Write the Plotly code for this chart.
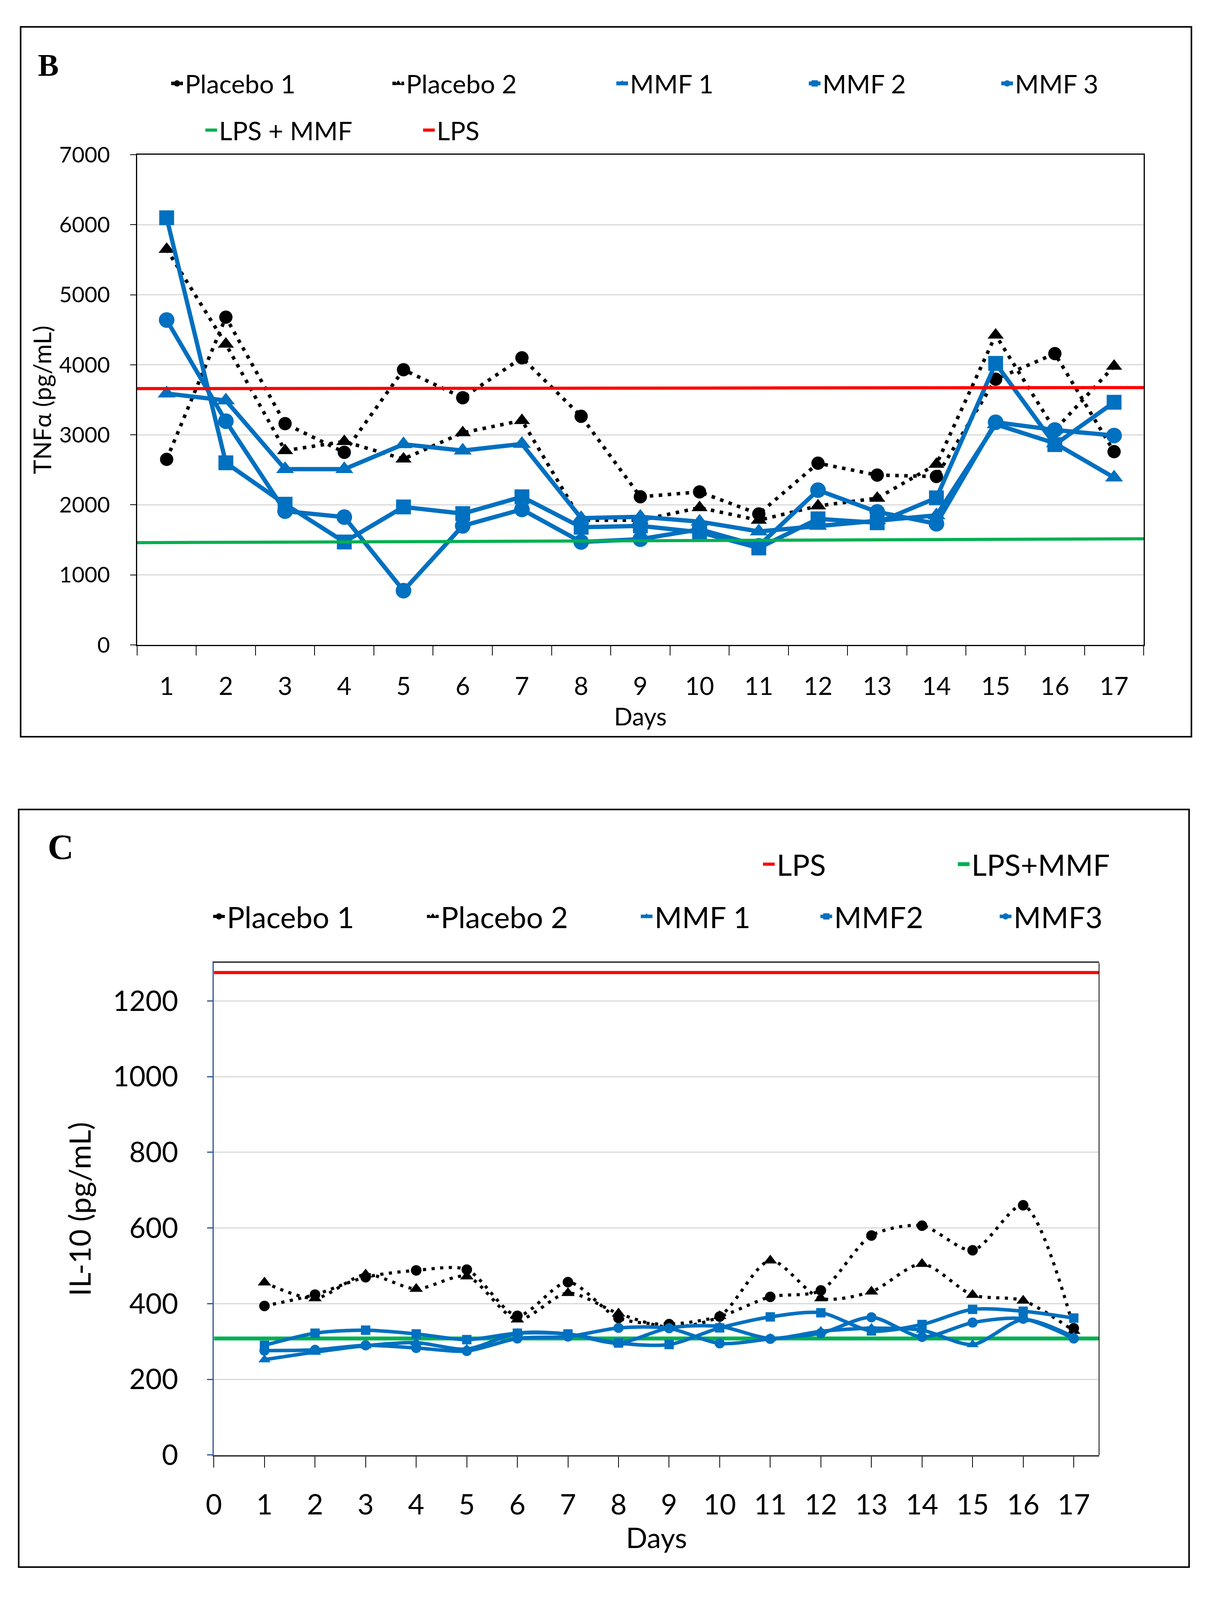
import plotly.graph_objects as go

W, H = 3084, 4275

# ---------------- DATA ----------------
days = list(range(1, 18))

# Panel B : TNF-alpha (pg/mL)
tnf_placebo1 = [2650, 4680, 3160, 2750, 3930, 3530, 4100, 3265, 2115, 2185, 1870, 2595, 2425, 2405, 3795, 4160, 2760]
tnf_placebo2 = [5650, 4295, 2775, 2905, 2655, 3030, 3205, 1780, 1780, 1960, 1780, 1985, 2095, 2580, 4425, 3070, 3980]
tnf_mmf1 = [3590, 3490, 2510, 2510, 2865, 2775, 2870, 1810, 1830, 1760, 1620, 1700, 1780, 1850, 3150, 2880, 2390]
tnf_mmf2 = [6100, 2600, 2010, 1470, 1970, 1875, 2115, 1680, 1700, 1610, 1385, 1800, 1745, 2100, 4020, 2860, 3465]
tnf_mmf3 = [4640, 3195, 1910, 1825, 775, 1700, 1935, 1470, 1510, 1650, 1415, 2210, 1900, 1730, 3180, 3070, 2990]
tnf_lps = [3660, 3675]        # value at left edge, right edge
tnf_lps_mmf = [1460, 1515]

# Panel C : IL-10 (pg/mL)
il10_placebo1 = [394, 424, 470, 488, 490, 368, 457, 362, 346, 366, 418, 435, 580, 606, 541, 660, 335]
il10_placebo2 = [456, 414, 477, 439, 472, 358, 428, 374, 338, 367, 514, 414, 432, 505, 423, 408, 328]
il10_mmf1 = [252, 272, 289, 297, 280, 322, 320, 296, 336, 340, 308, 327, 335, 330, 292, 358, 312]
il10_mmf2 = [290, 322, 330, 320, 305, 322, 320, 296, 292, 336, 365, 376, 328, 345, 385, 380, 362]
il10_mmf3 = [276, 278, 290, 283, 275, 308, 313, 336, 335, 295, 307, 322, 364, 312, 350, 360, 308]
il10_lps = [1275, 1275]
il10_lps_mmf = [308, 308]

b_ticks = [0, 1000, 2000, 3000, 4000, 5000, 6000, 7000]
c_yticks = [0, 200, 400, 600, 800, 1000, 1200]
c_xticks = list(range(0, 18))

# ---------------- STYLE ----------------
BLUE = "#0070C0"
RED = "#FF0000"
GREEN = "#00B050"
BLACK = "#000000"
GRID = "#D9D9D9"
AXBLUE = "#2F5597"
FONT = "Lato"


def px(x):
    return x / W


def py(y):
    return 1 - y / H


fig = go.Figure()

# ---------- Panel B traces ----------
b_edges = [days[0] - 0.5, days[-1] + 0.5]
b_series = [
    ("Placebo 1", tnf_placebo1, BLACK, "circle", 34, True, "legend"),
    ("Placebo 2", tnf_placebo2, BLACK, "triangle-up", 36, True, "legend2"),
    ("MMF 1", tnf_mmf1, BLUE, "triangle-up", 40, False, "legend3"),
    ("MMF 2", tnf_mmf2, BLUE, "square", 38, False, "legend4"),
    ("MMF 3", tnf_mmf3, BLUE, "circle", 40, False, "legend5"),
]
for name, vals, col, sym, size, dotted, lg in b_series:
    fig.add_trace(go.Scatter(
        x=days, y=vals, name=name, mode="lines+markers",
        line=dict(color=col, width=9 if dotted else 11, dash="9px,14px" if dotted else "solid"),
        marker=dict(symbol=sym, size=size, color=col),
        xaxis="x", yaxis="y", legend=lg))

fig.add_trace(go.Scatter(x=b_edges, y=tnf_lps_mmf, name="LPS + MMF", mode="lines",
                         line=dict(color=GREEN, width=8), xaxis="x", yaxis="y", legend="legend6"))
fig.add_trace(go.Scatter(x=b_edges, y=tnf_lps, name="LPS", mode="lines",
                         line=dict(color=RED, width=8), xaxis="x", yaxis="y", legend="legend7"))

# ---------- Panel C traces ----------
c_edges = [c_xticks[0], days[-1] + 0.5]
fig.add_trace(go.Scatter(x=c_edges, y=il10_lps, name="LPS", mode="lines",
                         line=dict(color=RED, width=8), xaxis="x2", yaxis="y2", legend="legend8"))
fig.add_trace(go.Scatter(x=c_edges, y=il10_lps_mmf, name="LPS+MMF", mode="lines",
                         line=dict(color=GREEN, width=10), xaxis="x2", yaxis="y2", legend="legend9"))

c_series = [
    ("Placebo 1", il10_placebo1, BLACK, "circle", 27, True, "legend10"),
    ("Placebo 2", il10_placebo2, BLACK, "triangle-up", 30, True, "legend11"),
    ("MMF 1", il10_mmf1, BLUE, "triangle-up", 27, False, "legend12"),
    ("MMF2", il10_mmf2, BLUE, "square", 24, False, "legend13"),
    ("MMF3", il10_mmf3, BLUE, "circle", 26, False, "legend14"),
]
for name, vals, col, sym, size, dotted, lg in c_series:
    fig.add_trace(go.Scatter(
        x=days, y=vals, name=name, mode="lines+markers",
        line=dict(color=col, width=8 if dotted else 9, dash="8px,14px" if dotted else "solid",
                  shape="spline", smoothing=0.8),
        marker=dict(symbol=sym, size=size, color=col),
        xaxis="x2", yaxis="y2", legend=lg))

# ---------------- LAYOUT ----------------
B_PLOT = dict(x0=332, x1=2926, y0=384, y1=1718)
C_PLOT = dict(x0=530, x1=2811, y0=2584, y1=3923)

layout = dict(
    width=W, height=H, autosize=False,
    margin=dict(l=0, r=0, t=0, b=0),
    paper_bgcolor="white", plot_bgcolor="white",
    font=dict(family=FONT, color=BLACK, size=54),
    showlegend=True,
    xaxis=dict(
        domain=[px(B_PLOT["x0"]), px(B_PLOT["x1"])],
        range=b_edges, tickmode="array", tickvals=days, ticktext=[str(d) for d in days],
        ticks="", showgrid=False, zeroline=False,
        showline=True, linecolor=BLACK, linewidth=3, mirror=True,
        tickfont=dict(size=64, family=FONT), ticklabelstandoff=48,
        minor=dict(tick0=0.5, dtick=1, ticks="outside", ticklen=24, tickwidth=2,
                   tickcolor=BLACK, showgrid=False),
        title=dict(text="Days", font=dict(size=62, family=FONT), standoff=22),
        anchor="y", fixedrange=True),
    yaxis=dict(
        domain=[py(B_PLOT["y1"]), py(B_PLOT["y0"])],
        range=[b_ticks[0], b_ticks[-1]], tickmode="array", tickvals=b_ticks,
        ticks="outside", ticklen=15, tickwidth=2, tickcolor=BLACK,
        showgrid=True, gridcolor=GRID, gridwidth=3, zeroline=False,
        showline=True, linecolor=BLACK, linewidth=3, mirror=True,
        tickfont=dict(size=56, family=FONT), ticklabelstandoff=40,
        title=dict(text="TNFα (pg/mL)", font=dict(size=62, family=FONT), standoff=0),
        anchor="x", fixedrange=True),
    xaxis2=dict(
        domain=[px(C_PLOT["x0"]), px(C_PLOT["x1"])],
        range=c_edges, tickmode="array", tickvals=c_xticks,
        ticks="outside", ticklen=28, tickwidth=2, tickcolor=BLACK,
        showgrid=False, zeroline=False,
        showline=True, linecolor="#404040", linewidth=4, mirror=True,
        tickfont=dict(size=72, family=FONT), ticklabelstandoff=34,
        title=dict(text="Days", font=dict(size=72, family=FONT), standoff=0),
        anchor="y2", fixedrange=True),
    yaxis2=dict(
        domain=[py(C_PLOT["y1"]), py(C_PLOT["y0"])],
        range=[0, 1300], tickmode="array", tickvals=c_yticks,
        ticks="outside", ticklen=14, tickwidth=3, tickcolor=AXBLUE,
        showgrid=True, gridcolor=GRID, gridwidth=3, zeroline=False,
        showline=True, linecolor=AXBLUE, linewidth=3,
        tickfont=dict(size=72, family=FONT), ticklabelstandoff=60,
        title=dict(text="IL-10 (pg/mL)", font=dict(size=76, family=FONT), standoff=32),
        anchor="x2", fixedrange=True),
)

# individual legends (one entry each) to reproduce the reference layout
legend_pos = {
    "legend": (463, 190, 66), "legend2": (1033, 190, 66), "legend3": (1610, 190, 66),
    "legend4": (2106, 190, 66), "legend5": (2602, 190, 66),
    "legend6": (551, 317, 66), "legend7": (1112, 317, 66),
    "legend8": (1988, 2315, 76), "legend9": (2490, 2315, 76),
    "legend10": (571, 2457, 76), "legend11": (1122, 2457, 76), "legend12": (1673, 2457, 76),
    "legend13": (2136, 2457, 76), "legend14": (2598, 2457, 76),
}
for key, (tx, ty, fs) in legend_pos.items():
    layout[key] = dict(x=px(tx - 48), y=py(ty), xanchor="left", yanchor="middle",
                       orientation="h", bgcolor="rgba(0,0,0,0)", borderwidth=0,
                       font=dict(size=fs, family=FONT, color=BLACK), itemclick=False,
                       itemdoubleclick=False)

fig.update_layout(**layout)

# panel frames
fig.add_shape(type="rect", xref="paper", yref="paper", x0=px(32), x1=px(3049), y0=py(1968), y1=py(36),
              line=dict(color=BLACK, width=4), fillcolor="rgba(0,0,0,0)", layer="below")
fig.add_shape(type="rect", xref="paper", yref="paper", x0=px(27), x1=px(3043), y0=py(4228), y1=py(2166),
              line=dict(color=BLACK, width=4), fillcolor="rgba(0,0,0,0)", layer="below")
# right border of panel C plot area (left axis is blue)
fig.add_shape(type="line", xref="x2 domain", yref="y2 domain", x0=1, x1=1, y0=0, y1=1,
              line=dict(color=BLACK, width=2))

# panel letters
fig.add_annotation(text="<b>B</b>", xref="paper", yref="paper", x=px(75), y=py(140),
                   xanchor="left", yanchor="middle", showarrow=False,
                   font=dict(family="Liberation Serif", size=80, color=BLACK))
fig.add_annotation(text="<b>C</b>", xref="paper", yref="paper", x=px(100), y=py(2268),
                   xanchor="left", yanchor="middle", showarrow=False,
                   font=dict(family="Liberation Serif", size=92, color=BLACK))

# fit the figure exactly into the visible browser viewport (no body margin / scrollbars)
fit_js = """
document.documentElement.style.margin='0';
document.documentElement.style.overflow='hidden';
document.body.style.margin='0';
document.body.style.overflow='hidden';
var gd = document.getElementById('{plot_id}');
Plotly.relayout(gd, {width: document.documentElement.clientWidth,
                     height: window.innerHeight});
"""

fig.write_html("out.html", post_script=fit_js, config={"displayModeBar": False})
